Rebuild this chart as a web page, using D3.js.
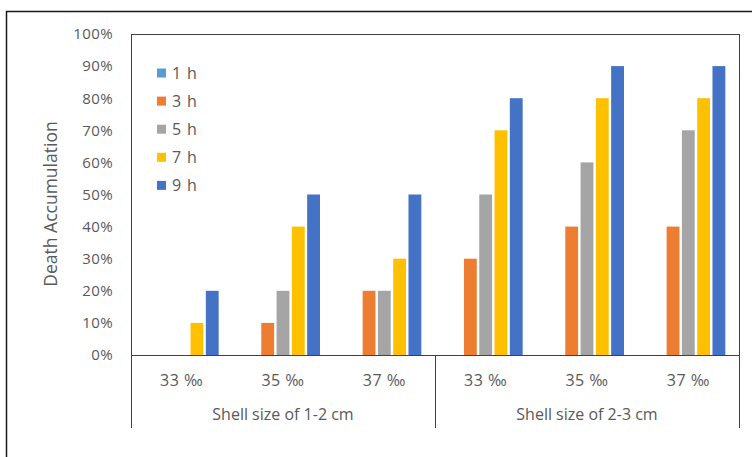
<!DOCTYPE html>
<html>
<head>
<meta charset="utf-8">
<script src="https://cdn.jsdelivr.net/npm/d3@7"></script>
<style>
  html, body { margin: 0; padding: 0; background: #fff; }
  svg { display: block; font-family: "Open Sans", sans-serif; }
</style>
</head>
<body>
<svg id="chart" width="752" height="457"></svg>
<script>
// Salinity levels within each shell-size group
const salinities = ["33 ‰", "35 ‰", "37 ‰"];
const shellGroups = ["Shell size of 1-2 cm", "Shell size of 2-3 cm"];
const seriesNames = ["1 h", "3 h", "5 h", "7 h", "9 h"];
const seriesColors = ["#5B9BD5", "#ED7D31", "#A5A5A5", "#FFC000", "#4472C4"];
const yTicks = [0, 0.1, 0.2, 0.3, 0.4, 0.5, 0.6, 0.7, 0.8, 0.9, 1.0];

// Cumulative death ratio per series, one entry per (group, salinity)
const deaths1h = [0, 0, 0, 0, 0, 0];
const deaths3h = [0, 0.1, 0.2, 0.3, 0.4, 0.4];
const deaths5h = [0, 0.2, 0.2, 0.5, 0.6, 0.7];
const deaths7h = [0.1, 0.4, 0.3, 0.7, 0.8, 0.8];
const deaths9h = [0.2, 0.5, 0.5, 0.8, 0.9, 0.9];
const seriesValues = [deaths1h, deaths3h, deaths5h, deaths7h, deaths9h];

const categories = [];
shellGroups.forEach((g, gi) => salinities.forEach((s, si) => categories.push({ id: gi + "-" + si, group: g, sal: s })));

const svg = d3.select("#chart");
const textColor = "#595959";

// Outer chart frame
svg.append("rect").attr("x", 6.5).attr("y", 11.5).attr("width", 760).attr("height", 460)
  .attr("fill", "none").attr("stroke", "#1a1a1a").attr("stroke-width", 1.5);

const plot = { left: 131, right: 739, top: 34, bottom: 355 };

const x0 = d3.scaleBand().domain(categories.map(c => c.id)).range([plot.left, plot.right]).paddingInner(0.27).paddingOuter(0.135);
const x1 = d3.scaleBand().domain(seriesNames).range([0, x0.bandwidth()]).paddingInner(0.16);
const y = d3.scaleLinear().domain([0, 1]).range([plot.bottom, plot.top]);

// Plot area border
svg.append("rect").attr("x", plot.left + 0.5).attr("y", plot.top + 0.5)
  .attr("width", plot.right - plot.left).attr("height", plot.bottom - plot.top)
  .attr("fill", "none").attr("stroke", "#404040").attr("stroke-width", 1);

// Bars
const groups = svg.append("g").selectAll("g").data(seriesNames).join("g")
  .attr("fill", (d, i) => seriesColors[i]);
groups.each(function (name, si) {
  d3.select(this).selectAll("rect").data(categories.map((c, ci) => ({ c, v: seriesValues[si][ci] })))
    .join("rect")
    .filter(d => d.v > 0)
    .attr("x", d => x0(d.c.id) + x1(name))
    .attr("width", x1.bandwidth())
    .attr("y", d => y(d.v))
    .attr("height", d => y(0) - y(d.v));
});

// Y axis
const yAxis = d3.axisLeft(y).tickValues(yTicks).tickFormat(d3.format(".0%")).tickSize(0).tickPadding(18);
const yg = svg.append("g").attr("transform", `translate(${plot.left},0)`).call(yAxis);
yg.select(".domain").remove();
yg.selectAll("text").attr("fill", textColor).attr("font-size", 15).attr("letter-spacing", "0.4px")
  .attr("font-family", "'Open Sans', sans-serif");

// Category axis line and group separators (below the plot area only)
const axisG = svg.append("g");
axisG.append("line").attr("x1", plot.left).attr("x2", plot.right).attr("y1", plot.bottom + 0.5).attr("y2", plot.bottom + 0.5)
  .attr("stroke", "#404040");
const sepX = [plot.left, (plot.left + plot.right) / 2, plot.right];
axisG.selectAll("line.sep").data(sepX).join("line").attr("class", "sep")
  .attr("x1", d => d + 0.5).attr("x2", d => d + 0.5).attr("y1", plot.bottom).attr("y2", 428)
  .attr("stroke", "#404040");

// Salinity labels
axisG.selectAll("text.sal").data(categories).join("text").attr("class", "sal")
  .attr("x", d => x0(d.id) + x0.bandwidth() / 2).attr("y", 380).attr("dy", "0.35em")
  .attr("text-anchor", "middle").attr("fill", textColor).attr("font-size", 16).attr("letter-spacing", "0.5px")
  .text(d => d.sal);

// Shell-size group labels
axisG.selectAll("text.grp").data(shellGroups).join("text").attr("class", "grp")
  .attr("x", (d, i) => (sepX[i] + sepX[i + 1]) / 2).attr("y", 414).attr("dy", "0.35em")
  .attr("text-anchor", "middle").attr("fill", textColor).attr("font-size", 16)
  .text(d => d);

// Y axis title
svg.append("text").attr("transform", "translate(51,204) rotate(-90)")
  .attr("text-anchor", "middle").attr("dy", "0.35em").attr("fill", textColor).attr("font-size", 17.5)
  .text("Death Accumulation");

// Legend
const legend = svg.append("g").selectAll("g").data(seriesNames).join("g")
  .attr("transform", (d, i) => `translate(157,${73 + i * 28.1})`);
legend.append("rect").attr("x", 0).attr("y", -4.5).attr("width", 9).attr("height", 9)
  .attr("fill", (d, i) => seriesColors[i]);
legend.append("text").attr("x", 15).attr("dy", "0.35em").attr("fill", textColor).attr("font-size", 16)
  .attr("letter-spacing", "0.8px").text(d => d);
</script>
</body>
</html>
